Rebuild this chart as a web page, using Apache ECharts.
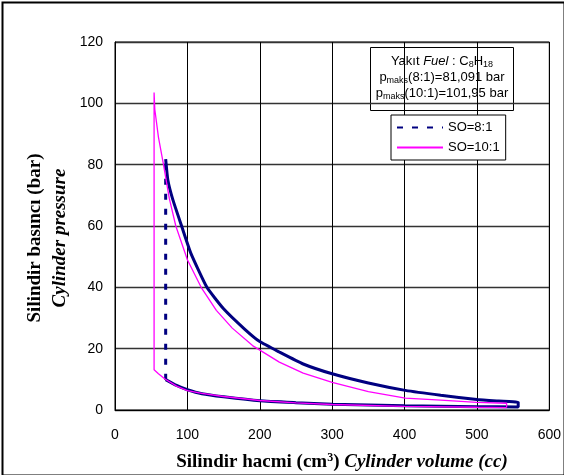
<!DOCTYPE html>
<html>
<head>
<meta charset="utf-8">
<script src="https://cdn.jsdelivr.net/npm/echarts@6/dist/echarts.min.js"></script>
<style>
html,body{margin:0;padding:0;background:#fff;}
#c{width:564px;height:475px;}
</style>
</head>
<body>
<div id="c"></div>
<script>
// ---- data ----
// SO=8:1 expansion (volume cc, pressure bar)
const vol8Exp = [70, 73, 80, 92, 105, 127, 150, 179, 200, 227, 260, 300, 350, 401, 450, 500, 530, 557];
const p8Exp   = [81.8, 75, 68.5, 60, 51, 40, 33, 26.4, 22.3, 18.9, 15.0, 11.8, 8.8, 6.4, 4.8, 3.4, 2.9, 2.5];
// SO=8:1 compression (from bottom dead centre to top)
const vol8Comp = [557, 500, 400, 300, 250, 200, 150, 120, 100, 85, 70];
const p8Comp   = [1.0, 1.1, 1.4, 1.9, 2.4, 3.0, 4.3, 5.3, 6.6, 8.0, 9.9];
// SO=10:1 expansion
const vol10Exp = [54, 55, 60, 67, 75, 84, 100, 119, 140, 162, 190, 227, 260, 300, 350, 401, 450, 500, 541];
const p10Exp   = [103.5, 98, 89, 80, 69, 60, 49, 40, 32.5, 26.7, 21, 15.6, 12, 9.0, 6.0, 3.9, 3.2, 2.5, 2.2];
// SO=10:1 compression
const vol10Comp = [541, 500, 400, 300, 250, 200, 150, 120, 100, 85, 69, 60, 54];
const p10Comp   = [0.8, 0.9, 1.2, 1.8, 2.3, 3.1, 4.4, 5.4, 6.3, 7.8, 10.1, 11.8, 13.1];

const seriesNames = ['SO=8:1', 'SO=10:1'];
const xTicks = [0, 100, 200, 300, 400, 500, 600];
const yTicks = [0, 20, 40, 60, 80, 100, 120];

const pair = (xs, ys) => xs.map((x, i) => [x, ys[i]]);

// SO=8:1 : solid curves (expansion then compression), dashed combustion line
const navyCurve = pair(vol8Exp, p8Exp).concat(pair(vol8Comp, p8Comp));
const navyVert = [[vol8Comp[vol8Comp.length - 1], p8Comp[p8Comp.length - 1]], [vol8Exp[0], p8Exp[0]]];
// SO=10:1 : full cycle
const magCycle = pair(vol10Comp, p10Comp).concat(pair(vol10Exp, p10Exp)).concat([[vol10Comp[0], p10Comp[0]]]);

const F = 'Liberation Sans, Arial, sans-serif';
const T = 'Liberation Serif, Times New Roman, serif';

const chart = echarts.init(document.getElementById('c'), null, {renderer: 'canvas'});
chart.setOption({
  animation: false,
  backgroundColor: '#fff',
  grid: {left: 115, right: 13, top: 42, bottom: 65, show: true, borderColor: '#000', borderWidth: 1, backgroundColor: '#fff'},
  xAxis: {
    type: 'value', min: xTicks[0], max: xTicks[xTicks.length - 1], interval: 100,
    axisLine: {show: true, lineStyle: {color: '#000', width: 1}},
    axisTick: {show: false},
    splitLine: {show: true, lineStyle: {color: '#000', width: 1}},
    axisLabel: {color: '#000', fontFamily: F, fontSize: 14, margin: 18}
  },
  yAxis: {
    type: 'value', min: yTicks[0], max: yTicks[yTicks.length - 1], interval: 20,
    axisLine: {show: true, lineStyle: {color: '#000', width: 1}},
    axisTick: {show: false},
    splitLine: {show: true, lineStyle: {color: '#333', width: 1.3}},
    axisLabel: {color: '#000', fontFamily: F, fontSize: 14, margin: 12}
  },
  legend: {
    orient: 'vertical', left: 391, top: 115,
    data: seriesNames,
    itemWidth: 46, itemHeight: 14, itemGap: 7,
    padding: [6, 6, 6, 5],
    borderColor: '#000', borderWidth: 1, backgroundColor: '#fff',
    itemStyle: {opacity: 0},
    textStyle: {fontFamily: F, fontSize: 13, color: '#000'}
  },
  series: [
    {name: seriesNames[0], type: 'line', data: navyVert, symbol: 'none', z: 3,
     lineStyle: {color: '#000080', width: 3, type: [6, 9]}, itemStyle: {color: '#000080'}},
    {name: seriesNames[0], type: 'line', data: navyCurve, symbol: 'none', z: 3, smooth: 0.15,
     lineStyle: {color: '#000080', width: 3}, itemStyle: {color: '#000080'}},
    {name: seriesNames[1], type: 'line', data: magCycle, symbol: 'none', z: 4,
     lineStyle: {color: '#ff00ff', width: 1.3}, itemStyle: {color: '#ff00ff'}}
  ],
  graphic: [
    {type: 'rect', left: 0, top: 0, z: 100, silent: true,
     shape: {x: 1, y: 1, width: 562, height: 473},
     style: {fill: 'none', stroke: '#000', lineWidth: 2}},
    {type: 'group', left: 370, top: 47, z: 50, children: [
      {type: 'rect', shape: {x: 0.5, y: 0.5, width: 143, height: 63},
       style: {fill: '#fff', stroke: '#000', lineWidth: 1}},
      {type: 'text', x: 72, y: 6,
       style: {
         text: '{n|Yakıt }{i|Fuel}{n| : C}{s|8}{n|H}{s|18}\n{n|p}{s|maks}{n|(8:1)=81,091 bar}\n{n|p}{s|maks}{n|(10:1)=101,95 bar}',
         align: 'center', verticalAlign: 'top',
         rich: {
           n: {fontFamily: F, fontSize: 13, color: '#000', lineHeight: 16},
           i: {fontFamily: F, fontSize: 13, fontStyle: 'italic', color: '#000', lineHeight: 16},
           s: {fontFamily: F, fontSize: 9, color: '#000', lineHeight: 16, verticalAlign: 'bottom', padding: [5, 0, 0, 0]}
         }
       }}
    ]},
    {type: 'text', x: 342, y: 462, z: 50,
     style: {
       text: '{b|Silindir hacmi (cm}{sup|3}{b|) }{bi|Cylinder volume (cc)}',
       align: 'center', verticalAlign: 'middle',
       rich: {
         b: {fontFamily: T, fontSize: 19, fontWeight: 'bold', color: '#000', lineHeight: 20},
         bi: {fontFamily: T, fontSize: 19, fontWeight: 'bold', fontStyle: 'italic', color: '#000', lineHeight: 20},
         sup: {fontFamily: T, fontSize: 12, fontWeight: 'bold', color: '#000', lineHeight: 20, verticalAlign: 'top', padding: [0, 0, 6, 0]}
       }
     }},
    {type: 'text', x: 35, y: 238, rotation: Math.PI / 2, z: 50,
     style: {text: 'Silindir basıncı (bar)', align: 'center', verticalAlign: 'middle',
       fontFamily: T, fontSize: 19, fontWeight: 'bold', fill: '#000'}},
    {type: 'text', x: 60, y: 238, rotation: Math.PI / 2, z: 50,
     style: {text: 'Cylinder pressure', align: 'center', verticalAlign: 'middle',
       fontFamily: T, fontSize: 19, fontWeight: 'bold', fontStyle: 'italic', fill: '#000'}}
  ]
});
</script>
</body>
</html>
